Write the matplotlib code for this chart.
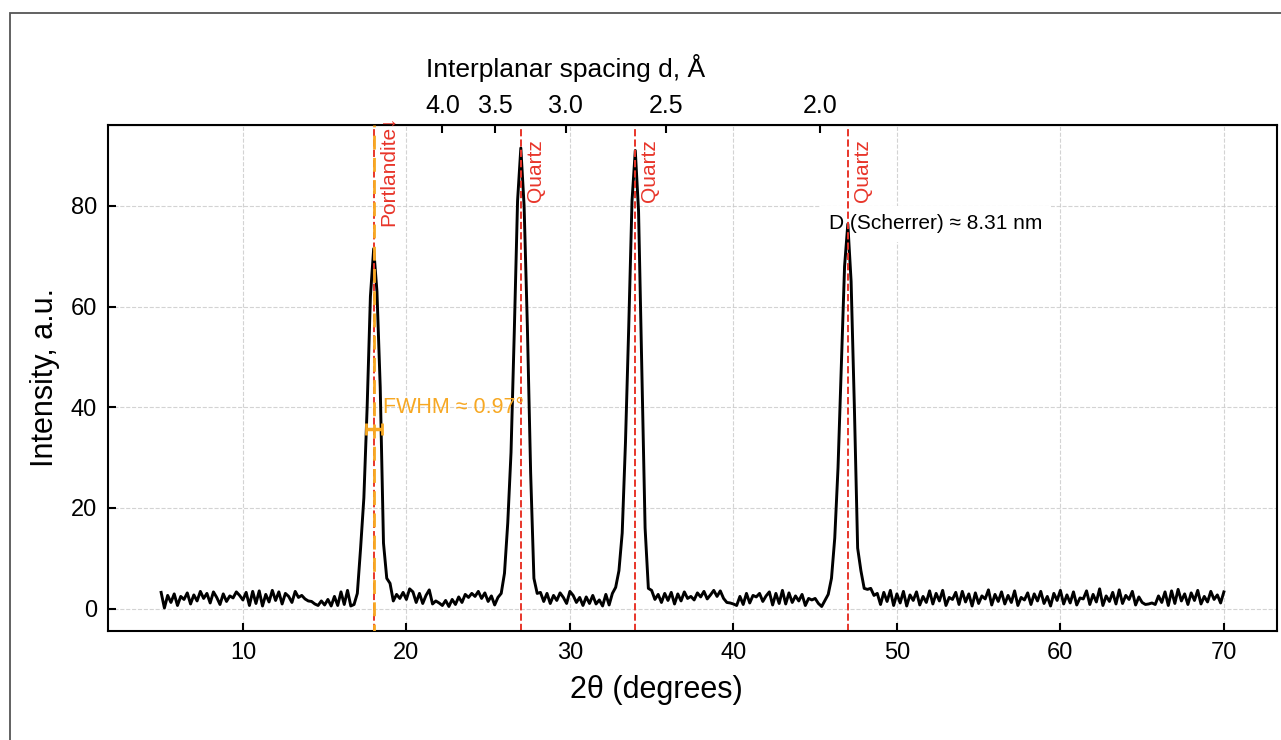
from __future__ import annotations

import matplotlib

matplotlib.use("Agg")
import matplotlib.pyplot as plt
import numpy as np
from matplotlib.patches import Rectangle
from matplotlib.ticker import FormatStrFormatter

plt.rcParams["font.family"] = ["Liberation Sans", "DejaVu Sans"]

# Cu K-alpha wavelength used for the d-spacing axis
WAVELENGTH = 1.5406

# 2theta grid: 5.0 .. 70.0 deg, one reading every 0.2 deg (10 values per row = 2 deg)
TWO_THETA_FIRST = 5.0
TWO_THETA_LAST = 70.0
INTENSITY = [
    3.2, 0.1, 2.6, 1.2, 2.9, 0.6, 2.4, 1.8, 3.1, 0.9,        # 5.0
    2.7, 1.5, 3.4, 2.0, 3.0, 1.1, 3.3, 2.2, 0.8, 2.9,        # 7.0
    1.4, 2.5, 2.1, 3.3, 2.6, 1.7, 3.2, 0.6, 3.4, 1.0,        # 9.0
    3.5, 0.5, 2.8, 1.3, 3.6, 1.6, 3.3, 0.9, 3.0, 2.4,        # 11.0
    1.2, 3.4, 2.2, 2.6, 1.9, 1.5, 1.4, 0.9, 0.6, 1.5,        # 13.0
    0.7, 1.8, 0.5, 2.4, 0.6, 3.3, 0.8, 3.6, 0.5, 0.8,        # 15.0
    3.0, 12.0, 22.0, 40.0, 62.0, 71.5, 63.0, 44.0, 13.0, 6.0,  # 17.0
    5.0, 1.5, 2.8, 2.0, 3.2, 1.8, 3.9, 3.3, 1.2, 3.0,        # 19.0
    1.0, 2.6, 3.7, 0.9, 1.5, 1.1, 0.6, 1.6, 0.4, 1.8,        # 21.0
    0.8, 2.3, 1.2, 2.8, 2.2, 3.0, 2.4, 3.4, 2.0, 3.1,        # 23.0
    1.4, 2.5, 0.7, 2.2, 3.0, 7.0, 17.0, 31.0, 55.0, 81.0,    # 25.0
    91.5, 80.0, 56.0, 27.0, 6.0, 3.0, 3.2, 1.4, 3.0, 1.0,    # 27.0
    2.6, 1.6, 3.1, 2.2, 1.0, 3.4, 2.6, 1.2, 2.2, 0.6,        # 29.0
    2.3, 1.0, 2.6, 0.9, 1.7, 0.5, 2.8, 0.7, 3.0, 4.2,        # 31.0
    7.5, 15.0, 33.0, 56.0, 81.0, 91.0, 79.0, 48.0, 16.0, 4.0,  # 33.0
    3.6, 1.8, 2.8, 1.2, 3.0, 1.6, 3.2, 0.9, 2.9, 1.5,        # 35.0
    3.3, 2.0, 2.4, 1.7, 3.1, 2.3, 3.4, 1.9, 2.7, 3.6,        # 37.0
    2.4, 3.5, 2.0, 1.2, 1.1, 0.9, 0.6, 2.4, 0.8, 3.0,        # 39.0
    1.1, 2.6, 2.3, 3.0, 1.4, 2.5, 3.3, 0.7, 3.0, 1.0,        # 41.0
    3.6, 0.9, 3.1, 1.2, 2.5, 1.5, 2.8, 0.6, 2.0, 1.7,        # 43.0
    2.0, 1.0, 0.4, 1.6, 2.8, 6.0, 14.0, 28.0, 48.0, 68.0,    # 45.0
    76.4, 65.0, 40.0, 12.0, 7.5, 4.0, 3.8, 4.0, 2.6, 3.0,    # 47.0
    0.8, 3.2, 1.4, 3.6, 0.6, 2.9, 1.1, 3.4, 0.5, 2.7,        # 49.0
    1.6, 3.3, 0.7, 2.4, 1.2, 3.5, 0.9, 3.0, 1.5, 3.6,        # 51.0
    0.6, 2.2, 1.8, 3.2, 0.8, 3.4, 1.3, 2.9, 0.5, 3.1,        # 53.0
    1.0, 2.5, 1.9, 3.7, 0.7, 2.8, 1.4, 3.3, 0.9, 2.6,        # 55.0
    1.2, 3.5, 0.6, 2.2, 1.7, 3.1, 0.8, 2.9, 1.5, 3.4,        # 57.0
    1.0, 2.4, 0.5, 3.0, 1.6, 3.6, 0.9, 2.7, 1.1, 3.3,        # 59.0
    0.7, 2.1, 1.9, 3.5, 0.8, 2.8, 1.3, 3.9, 0.6, 2.5,        # 61.0
    1.4, 3.2, 0.9, 3.7, 1.0, 2.6, 1.8, 3.4, 0.7, 2.3,        # 63.0
    1.2, 0.8, 0.9, 1.1, 0.8, 2.5, 1.2, 3.3, 0.6, 3.5,        # 65.0
    1.0, 3.8, 1.5, 2.9, 0.8, 3.1, 1.6, 3.6, 0.9, 2.4,        # 67.0
    1.3, 3.4, 1.8, 2.7, 1.1, 3.3,                            # 69.0
]

PEAK_POSITIONS = [18.0, 27.0, 34.0, 47.0]
PEAK_PHASES = ["Portlandite\u2193", "Quartz", "Quartz", "Quartz"]

FWHM_PEAK = 18.0
FWHM_VALUE = 0.97
FWHM_HALF_HEIGHT = 35.75

SCHERRER_PEAK = 47.0
SCHERRER_HEIGHT = 76.4
SCHERRER_SIZE_NM = 8.31

D_TICKS = [4.0, 3.5, 3.0, 2.5, 2.0]

PHASE_RED = "#e8352a"
FWHM_ORANGE = "#f7a823"


def two_theta_to_d(tt):
    tt = np.clip(np.asarray(tt, dtype=float), 1e-3, 179.0)
    return WAVELENGTH / (2.0 * np.sin(np.radians(tt / 2.0)))


def d_to_two_theta(d):
    d = np.asarray(d, dtype=float)
    d = np.where(np.abs(d) < 1e-9, 1e-9, d)
    ratio = np.clip(WAVELENGTH / (2.0 * d), -1.0, 1.0)
    return 2.0 * np.degrees(np.arcsin(ratio))


def main() -> None:
    intensity = np.asarray(INTENSITY)
    assert len(intensity) == 326, len(intensity)
    two_theta = np.linspace(TWO_THETA_FIRST, TWO_THETA_LAST, len(intensity))

    fig = plt.figure(figsize=(12.81, 7.40), dpi=100)
    ax = fig.add_axes([0.0843, 0.1473, 0.9126, 0.6838])

    ax.plot(two_theta, intensity, color="black", linewidth=2.1, zorder=2)

    for pos, phase in zip(PEAK_POSITIONS, PEAK_PHASES):
        ax.axvline(pos, color=PHASE_RED, linestyle="--", linewidth=1.4, zorder=2.5)
        ax.text(
            pos + 0.3,
            87.0,
            phase,
            rotation=90,
            color=PHASE_RED,
            fontsize=15,
            ha="left",
            va="center",
            zorder=3,
        )

    # FWHM marker on the portlandite peak
    ax.axvline(
        FWHM_PEAK,
        color=FWHM_ORANGE,
        linestyle=(2.5, (5, 3)),
        linewidth=2.0,
        zorder=2.6,
    )
    ax.errorbar(
        FWHM_PEAK,
        FWHM_HALF_HEIGHT,
        xerr=FWHM_VALUE / 2,
        fmt="none",
        ecolor=FWHM_ORANGE,
        elinewidth=2.5,
        capsize=4,
        capthick=2.0,
        zorder=2.7,
    )
    ax.text(
        FWHM_PEAK + 0.55,
        40.0,
        f"FWHM \u2248 {FWHM_VALUE:.2f}\u00b0",
        color=FWHM_ORANGE,
        fontsize=15.5,
        ha="left",
        va="center",
        zorder=3,
    )

    ax.text(
        SCHERRER_PEAK - 1.15,
        SCHERRER_HEIGHT,
        f"D (Scherrer) \u2248 {SCHERRER_SIZE_NM:.2f} nm",
        fontsize=15,
        ha="left",
        va="center",
        bbox=dict(facecolor="white", edgecolor="none", pad=6),
        zorder=1.8,
    )

    ax.grid(True, linestyle="--", color="#c8c8c8", linewidth=0.8, alpha=0.8)
    ax.tick_params(direction="in", length=6, width=1.5, labelsize=17, pad=8)
    for spine in ax.spines.values():
        spine.set_linewidth(1.5)
    ax.set_xlabel("2\u03b8 (degrees)", fontsize=22)
    ax.set_ylabel("Intensity, a.u.", fontsize=22)
    ax.xaxis.set_label_coords(0.469, -0.087)
    ax.yaxis.set_label_coords(-0.041, 0.5)

    secax = ax.secondary_xaxis("top", functions=(two_theta_to_d, d_to_two_theta))
    secax.set_xticks(D_TICKS)
    secax.xaxis.set_major_formatter(FormatStrFormatter("%.1f"))
    secax.tick_params(direction="in", length=6, width=1.5, labelsize=18, pad=5)
    ax.text(
        0.391,
        1.113,
        "Interplanar spacing d, \u00c5",
        transform=ax.transAxes,
        fontsize=19,
        ha="center",
        va="center",
    )

    fig.add_artist(
        Rectangle(
            (10 / 1281, -0.05),
            1.1,
            1.05 - 12.5 / 740,
            transform=fig.transFigure,
            fill=False,
            edgecolor="#555555",
            linewidth=1.3,
            clip_on=False,
        )
    )

    fig.savefig("out.png", dpi=100)
    plt.close(fig)


if __name__ == "__main__":
    main()
